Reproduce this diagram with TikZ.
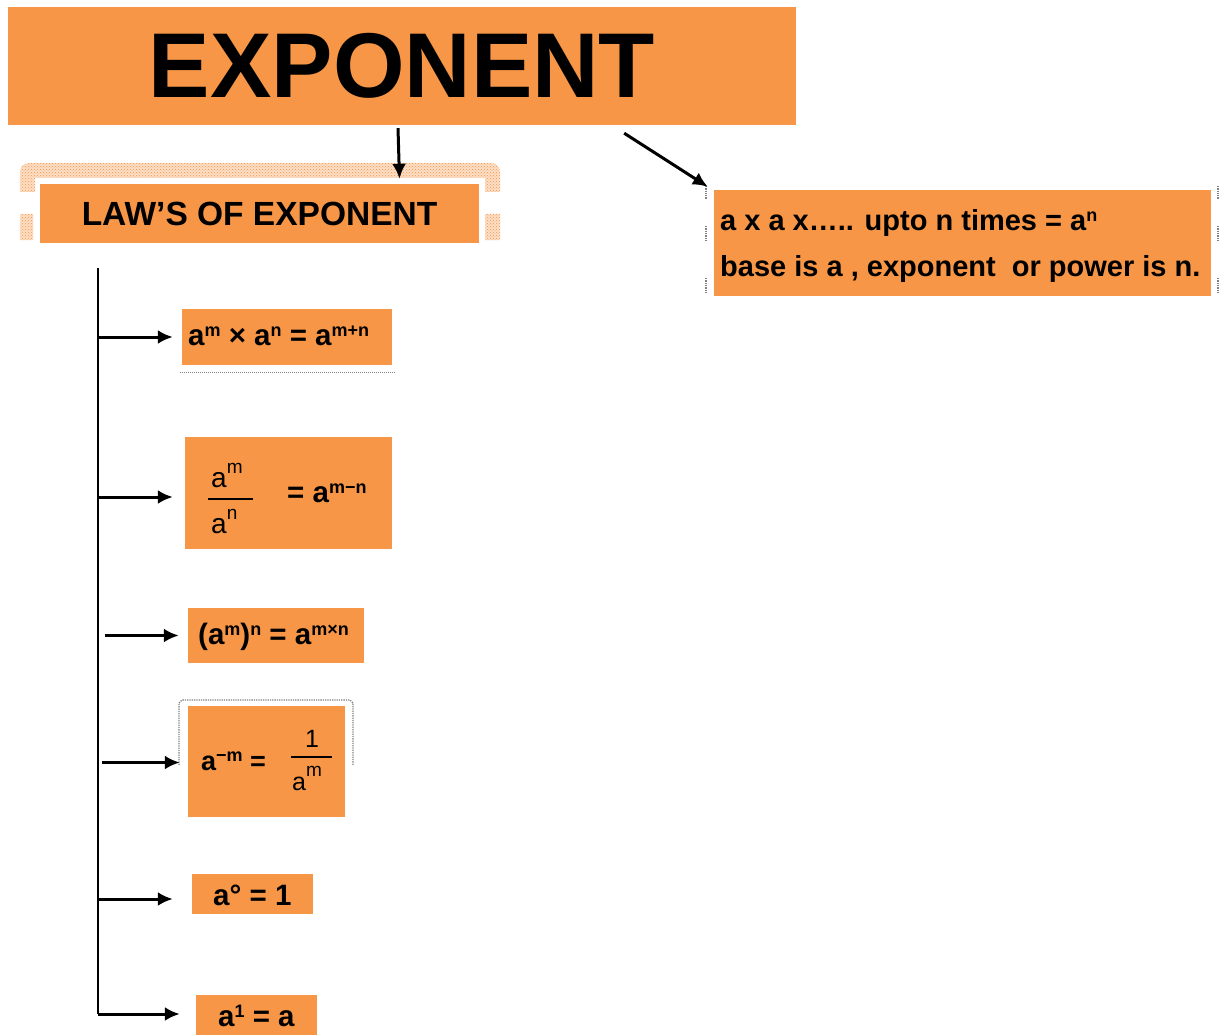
\documentclass[tikz,border=0pt]{standalone}
\usepackage{fontspec}
\setmainfont{Liberation Sans}
\usepackage{tikz}
\usetikzlibrary{arrows.meta, positioning, patterns}

\definecolor{exporange}{HTML}{F79646}
\newcommand{\pw}[1]{\raisebox{8.5pt}{\fontsize{18}{18}\selectfont #1}}
\newcommand{\pwr}[1]{\raisebox{14pt}{\fontsize{19}{19}\selectfont #1}}

\tikzset{
  obox/.style={fill=exporange, inner sep=0pt},
  lawtxt/.style={anchor=base west, inner sep=0pt, font=\fontsize{29.5}{31}\selectfont\bfseries},
  fractxt/.style={anchor=base west, inner sep=0pt, font=\fontsize{28}{30}\selectfont},
  lawarrow/.style={-{Latex[length=15pt,width=14pt]}, line width=3pt},
  smudge/.style={densely dotted, gray, line width=1.3pt}
}

\begin{document}
\begin{tikzpicture}[x=1pt, y=-1pt]
  \useasboundingbox (0,0) rectangle (1223,1035);

  % Title and its two branches
  \node[obox, minimum width=788, minimum height=118, font=\fontsize{92}{92}\selectfont\bfseries] (title) at (402,66) {EXPONENT};

  \path[fill=exporange!30]
    (20,192) -- (20,172) arc (180:270:9) -- (491,163) arc (270:360:9) -- (500,192)
    -- (485,192) -- (485,178) -- (35,178) -- (35,192) -- cycle
    (20,214) rectangle (33,240) (485,214) rectangle (500,240);
  \path[pattern=crosshatch dots, pattern color=exporange]
    (20,192) -- (20,172) arc (180:270:9) -- (491,163) arc (270:360:9) -- (500,192)
    -- (485,192) -- (485,178) -- (35,178) -- (35,192) -- cycle
    (20,214) rectangle (33,240) (485,214) rectangle (500,240);
  \node[obox, minimum width=439, minimum height=59, font=\fontsize{33.5}{34}\selectfont\bfseries] (lawhead) at (259.5,213.5) {LAW’S OF EXPONENT};

  \node[obox, minimum width=497, minimum height=106] (defn) at (962.5,243) {};
  \node[lawtxt, font=\fontsize{29}{31}\selectfont\bfseries] (defnone) at (720,230) {a x a x….. upto n times = a\pw{n}};
  \node[lawtxt, font=\fontsize{29}{31}\selectfont\bfseries] (defntwo) at (720,276) {base is a , exponent\ \ or power is n.};
  \foreach \y/\h in {186/13, 226/14, 278/15} {
    \draw[smudge] (706,\y) -- ++(0,\h);
    \draw[smudge] (1218,\y) -- ++(0,\h);
  }

  \draw[lawarrow] ([xshift=-4pt,yshift=-3pt]title.south) -- ([xshift=140pt,yshift=5pt]lawhead.north);
  \draw[lawarrow] ([xshift=-172pt,yshift=-8pt]title.south east) -- ([xshift=-6pt,yshift=3pt]defn.north west);

  % The six laws
  \node[obox, minimum width=210, minimum height=56] (prod) at (287,337) {};
  \node[lawtxt] (prodtxt) at (188,345) {a\pw{m} × a\pw{n} = a\pw{m+n}};
  \draw[smudge, line width=1pt] ([xshift=-2pt,yshift=-7pt]prod.south west) -- ([xshift=3pt,yshift=-7pt]prod.south east);

  \node[obox, minimum width=207, minimum height=112] (quot) at (288.5,493) {};
  \node[fractxt] (quotnum) at (211,487) {a\pwr{m}};
  \node[fractxt] (quotden) at (211,533) {a\pwr{n}};
  \draw[line width=1.3pt] (208,499) -- (253,499);
  \node[lawtxt] (quottxt) at (287,502) {= a\pw{m−n}};

  \node[obox, minimum width=176, minimum height=55] (powpow) at (276,635.5) {};
  \node[lawtxt] (powpowtxt) at (198,644) {(a\pw{m})\pw{n} = a\pw{m×n}};

  \draw[smudge] (179,765) -- (179,703) -- (182,700) -- (350,700) -- (353,703) -- (353,765);
  \node[obox, minimum width=157, minimum height=111] (neg) at (266.5,761.5) {};
  \node[lawtxt, font=\fontsize{27}{29}\selectfont\bfseries] (negtxt) at (201,770) {a\pw{−m} =};
  \node[fractxt, anchor=base, font=\fontsize{25}{27}\selectfont] (negnum) at (312,747) {1};
  \draw[line width=1.3pt] (291,757) -- (332,757);
  \node[fractxt, font=\fontsize{25}{27}\selectfont] (negden) at (292,790) {a\pwr{m}};

  \node[obox, minimum width=121, minimum height=40] (zero) at (252.5,894) {};
  \node[lawtxt] (zerotxt) at (213,905) {a° = 1};

  \node[obox, minimum width=121, minimum height=40] (one) at (256.5,1015) {};
  \node[lawtxt] (onetxt) at (218,1026) {a\pw{1} = a};

  % Trunk and arrows
  \coordinate (trunktop) at (98,268);
  \coordinate (trunkbot) at (98,1014);
  \draw[line width=2.8pt] (trunktop) -- (trunkbot);
  \foreach \b/\gap/\dy/\cut in {prod/0/0/9, quot/0/4/12, powpow/7/0/9, neg/4/1/8, zero/0/5/19, one/0/-1/16} {
    \draw[lawarrow] ([xshift=\gap pt,yshift=-\dy pt]trunktop |- \b.west) -- ([xshift=-\cut pt,yshift=-\dy pt]\b.west);
  }
\end{tikzpicture}
\end{document}
